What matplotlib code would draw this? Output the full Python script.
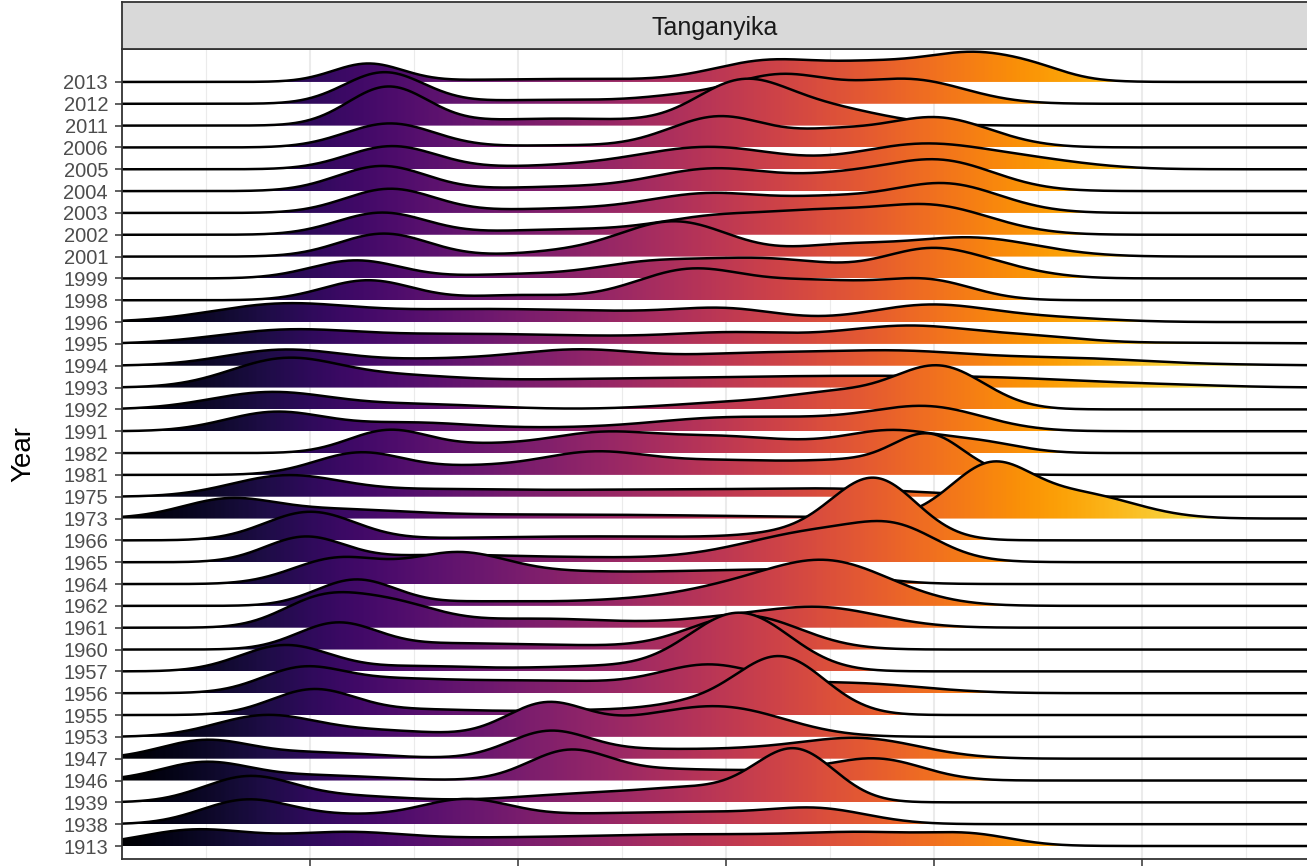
import numpy as np
import matplotlib.pyplot as plt
from matplotlib.patches import Polygon

plt.rcParams['font.family'] = ['Liberation Sans', 'DejaVu Sans']

# Years on the y axis, bottom to top
years = [1913, 1938, 1939, 1946, 1947, 1953, 1955, 1956, 1957, 1960,
         1961, 1962, 1964, 1965, 1966, 1973, 1975, 1981, 1982, 1991,
         1992, 1993, 1994, 1995, 1996, 1998, 1999, 2001, 2002, 2003,
         2004, 2005, 2006, 2011, 2012, 2013]

# Each ridge: bumps of (centre, spread, height in rows)
modes = [
    [(0.447, 0.264, 0.733), (1.144, 0.288, 0.504), (1.769, 0.481, 0.275), (2.875, 0.577, 0.504), (3.740, 0.337, 0.458), (4.197, 0.192, 0.366)],  # 1913
    [(0.688, 0.216, 1.054), (1.192, 0.288, 0.366), (1.745, 0.216, 0.916), (2.394, 0.481, 0.458), (2.971, 0.288, 0.275), (3.452, 0.240, 0.641)],  # 1938
    [(0.702, 0.216, 1.145), (1.192, 0.288, 0.275), (2.394, 0.385, 0.412), (2.875, 0.240, 0.458), (3.332, 0.192, 2.382)],  # 1939
    [(0.495, 0.216, 0.825), (1.048, 0.288, 0.229), (2.240, 0.192, 1.191), (2.731, 0.385, 0.504), (3.356, 0.240, 0.275), (3.740, 0.216, 0.916)],  # 1946
    [(0.495, 0.216, 0.825), (1.048, 0.288, 0.275), (2.144, 0.192, 1.099), (2.635, 0.385, 0.412), (3.163, 0.240, 0.183), (3.644, 0.288, 0.916)],  # 1947
    [(0.784, 0.240, 0.962), (1.337, 0.288, 0.275), (2.130, 0.192, 1.420), (2.587, 0.288, 0.550), (3.019, 0.288, 1.191)],  # 1953
    [(1.014, 0.202, 1.145), (1.529, 0.288, 0.229), (2.394, 0.385, 0.229), (2.827, 0.192, 0.321), (3.260, 0.216, 2.657)],  # 1955
    [(0.952, 0.192, 0.916), (1.337, 0.337, 0.550), (2.154, 0.433, 0.550), (2.923, 0.240, 1.145), (3.596, 0.337, 0.458)],  # 1956
    [(0.880, 0.216, 1.191), (1.529, 0.288, 0.229), (2.394, 0.337, 0.229), (3.067, 0.240, 2.657)],  # 1957
    [(1.130, 0.192, 1.191), (1.625, 0.288, 0.229), (2.202, 0.337, 0.183), (3.091, 0.264, 1.557)],  # 1960
    [(1.048, 0.192, 1.191), (1.385, 0.216, 1.008), (2.106, 0.433, 0.412), (2.971, 0.240, 0.275), (3.452, 0.288, 0.916)],  # 1961
    [(1.221, 0.192, 1.191), (1.817, 0.288, 0.183), (2.587, 0.337, 0.275), (2.971, 0.240, 0.366), (3.476, 0.313, 2.061)],  # 1962
    [(1.130, 0.216, 1.145), (1.697, 0.240, 1.283), (2.202, 0.337, 0.458), (2.971, 0.385, 0.550), (3.452, 0.240, 0.366)],  # 1964
    [(0.976, 0.192, 1.145), (1.577, 0.288, 0.229), (2.202, 0.481, 0.229), (3.067, 0.288, 0.183), (3.500, 0.337, 1.374), (3.837, 0.192, 0.916)],  # 1965
    [(1.000, 0.216, 1.283), (2.394, 0.721, 0.183), (3.356, 0.240, 0.275), (3.716, 0.202, 2.748)],  # 1966
    [(0.600, 0.220, 0.779), (1.096, 0.337, 0.321), (2.154, 0.962, 0.183), (4.269, 0.192, 2.290), (4.702, 0.264, 1.099)],  # 1973
    [(0.880, 0.264, 0.916), (1.529, 0.385, 0.229), (2.635, 0.721, 0.321), (3.596, 0.385, 0.229)],  # 1975
    [(1.240, 0.216, 1.008), (1.769, 0.240, 0.321), (2.346, 0.264, 0.916), (3.019, 0.385, 0.641), (3.644, 0.240, 0.458), (3.981, 0.168, 1.695)],  # 1981
    [(1.375, 0.192, 1.008), (1.817, 0.240, 0.321), (2.394, 0.264, 0.870), (2.971, 0.288, 0.687), (3.452, 0.240, 0.275), (3.813, 0.216, 0.916), (4.221, 0.192, 0.458)],  # 1982
    [(0.832, 0.240, 0.870), (1.481, 0.288, 0.366), (2.202, 0.385, 0.137), (2.971, 0.337, 0.550), (3.500, 0.288, 0.366), (3.981, 0.264, 1.054)],  # 1991
    [(0.808, 0.288, 0.779), (1.529, 0.337, 0.229), (3.067, 0.337, 0.321), (3.548, 0.240, 0.641), (4.029, 0.216, 1.924)],  # 1992
    [(0.880, 0.264, 1.283), (1.433, 0.288, 0.366), (2.202, 0.577, 0.321), (3.356, 0.577, 0.412), (4.317, 0.529, 0.366), (5.183, 0.288, 0.046)],  # 1993
    [(0.880, 0.288, 0.733), (1.577, 0.288, 0.229), (2.298, 0.337, 0.733), (3.067, 0.288, 0.366), (3.788, 0.433, 0.687), (4.702, 0.337, 0.275), (5.375, 0.385, 0.046)],  # 1994
    [(0.880, 0.337, 0.596), (1.673, 0.433, 0.366), (2.490, 0.481, 0.275), (3.067, 0.288, 0.366), (3.885, 0.337, 0.825), (4.510, 0.240, 0.229), (5.279, 0.481, 0.055)],  # 1995
    [(0.856, 0.337, 0.779), (1.673, 0.433, 0.458), (2.490, 0.481, 0.412), (3.019, 0.240, 0.412), (3.981, 0.288, 0.779), (4.558, 0.288, 0.183)],  # 1996
    [(1.279, 0.216, 0.916), (2.010, 0.240, 0.229), (2.827, 0.264, 1.374), (3.452, 0.288, 0.825), (3.981, 0.216, 0.825)],  # 1998
    [(1.221, 0.216, 0.825), (2.010, 0.288, 0.183), (2.587, 0.240, 0.458), (3.163, 0.385, 0.916), (3.957, 0.216, 1.008), (4.245, 0.240, 0.550)],  # 1999
    [(1.356, 0.216, 1.054), (2.202, 0.240, 0.183), (2.755, 0.264, 1.603), (3.548, 0.240, 0.458), (4.173, 0.313, 0.870)],  # 2001
    [(1.346, 0.216, 1.008), (2.202, 0.337, 0.229), (2.971, 0.288, 0.825), (3.452, 0.240, 0.733), (3.981, 0.288, 1.328)],  # 2002
    [(1.385, 0.216, 1.099), (2.202, 0.337, 0.183), (2.923, 0.288, 0.870), (3.500, 0.240, 0.550), (4.053, 0.264, 1.328)],  # 2003
    [(1.346, 0.216, 1.145), (2.202, 0.337, 0.183), (2.947, 0.288, 1.008), (3.548, 0.240, 0.550), (4.029, 0.264, 1.374)],  # 2004
    [(1.394, 0.216, 1.054), (2.202, 0.337, 0.137), (2.923, 0.337, 1.008), (3.933, 0.313, 1.099), (4.462, 0.288, 0.366)],  # 2005
    [(1.385, 0.216, 1.099), (2.202, 0.288, 0.092), (2.971, 0.240, 1.420), (3.500, 0.192, 0.550), (4.005, 0.264, 1.374)],  # 2006
    [(1.375, 0.192, 1.741), (2.202, 0.433, 0.321), (3.067, 0.216, 1.741), (3.452, 0.288, 0.825)],  # 2011
    [(1.356, 0.192, 1.420), (2.202, 0.433, 0.183), (2.779, 0.192, 0.229), (3.260, 0.240, 1.283), (3.885, 0.264, 1.099)],  # 2012
    [(1.279, 0.168, 0.825), (2.202, 0.481, 0.137), (3.212, 0.264, 0.962), (3.692, 0.216, 0.596), (4.197, 0.264, 1.328), (4.510, 0.144, 0.183)],  # 2013
]

x_lo, x_hi = 0.096, 5.80
major_x = [1, 2, 3, 4, 5]
minor_x = [0.5, 1.5, 2.5, 3.5, 4.5, 5.5]

fig = plt.figure(figsize=(13.07, 8.67), dpi=100)
ax = fig.add_axes([0.0933, 0.0092, 0.9075, 0.9343])
ax.set_facecolor('white')

# grid (only the vertical lines show through)
for v in minor_x:
    ax.axvline(v, color='#EBEBEB', lw=0.8, zorder=0)
for v in major_x:
    ax.axvline(v, color='#EBEBEB', lw=1.5, zorder=0)

xs = np.linspace(x_lo, x_hi, 1500)
grad = np.linspace(0, 1, 600)[None, :]
n = len(years)

# draw from the top row down so lower ridges sit in front
for i in range(n - 1, -1, -1):
    dens = np.zeros_like(xs)
    for c, s, h in modes[i]:
        dens += h * np.exp(-0.5 * ((xs - c) / s) ** 2)
    top = i + dens
    z = 10 + (n - i) * 2
    poly = Polygon(np.column_stack([np.r_[xs, x_hi, x_lo], np.r_[top, i, i]]),
                   closed=True, transform=ax.transData)
    im = ax.imshow(grad, cmap='inferno', aspect='auto', interpolation='bilinear',
                   extent=[x_lo, x_hi, i, i + dens.max() + 0.1], origin='lower', zorder=z)
    im.set_clip_path(poly)
    ax.plot(xs, top, color='black', lw=1.8, zorder=z + 1, solid_capstyle='butt')

ax.set_xlim(x_lo, x_hi)
ax.set_ylim(-0.596, 36.51)
ax.set_xticks(major_x)
ax.set_xticklabels([])
ax.set_yticks(range(n))
ax.set_yticklabels([str(y) for y in years])
ax.tick_params(axis='both', length=5, width=1.1, color='#333333')
ax.tick_params(axis='y', labelsize=14.5, labelcolor='#4D4D4D', pad=5)
for sp in ax.spines.values():
    sp.set_color('#333333')
    sp.set_linewidth(1.3)
    sp.set_zorder(200)

# facet strip
strip = fig.add_axes([0.0933, 0.9435, 0.9075, 0.0542])
strip.set_facecolor('#D9D9D9')
strip.set_xticks([])
strip.set_yticks([])
for sp in strip.spines.values():
    sp.set_color('#333333')
    sp.set_linewidth(1.3)
strip.text(0.5, 0.44, 'Tanganyika', ha='center', va='center', fontsize=18,
           color='#1A1A1A', transform=strip.transAxes)

fig.text(23 / 1307, 0.476, 'Year', rotation=90, ha='center', va='center', fontsize=20)

fig.savefig('out.png', dpi=100)
